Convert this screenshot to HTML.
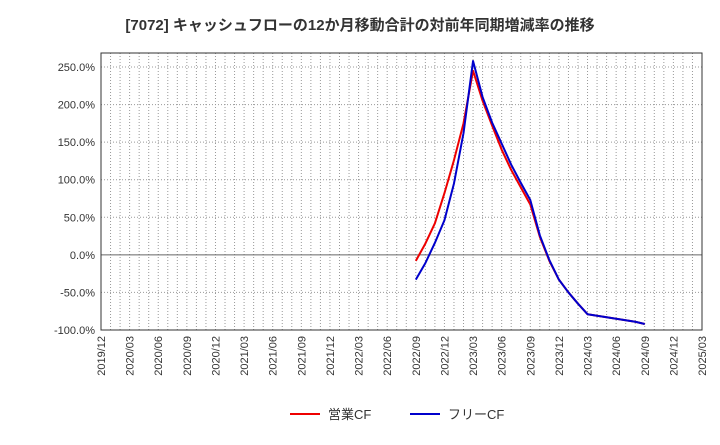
<!DOCTYPE html>
<html><head><meta charset="utf-8"><style>
body{margin:0;background:#fff;font-family:"Liberation Sans","Noto Sans CJK JP",sans-serif;}
</style></head><body>
<svg id="c" width="720" height="440" xmlns="http://www.w3.org/2000/svg">
<text x="360" y="30" text-anchor="middle" font-size="15" font-weight="bold" fill="#333" font-family="Liberation Sans, Noto Sans CJK JP, sans-serif">[7072]  キャッシュフローの12か月移動合計の対前年同期増減率の推移</text>
<g id="grid"></g><g id="axes"></g><g id="series"></g>
<g>
<line x1="290" y1="414" x2="320" y2="414" stroke="#e00" stroke-width="2"/>
<text x="328" y="419" font-size="13" fill="#333" font-family="Liberation Sans, Noto Sans CJK JP, sans-serif">営業CF</text>
<line x1="410" y1="414" x2="440" y2="414" stroke="#00c" stroke-width="2"/>
<text x="448" y="419" font-size="13" fill="#333" font-family="Liberation Sans, Noto Sans CJK JP, sans-serif">フリーCF</text>
</g>
</svg>
<script>
const xTickLabels=["2019/12","2020/03","2020/06","2020/09","2020/12","2021/03","2021/06","2021/09","2021/12","2022/03","2022/06","2022/09","2022/12","2023/03","2023/06","2023/09","2023/12","2024/03","2024/06","2024/09","2024/12","2025/03"];
const yTicks=[250,200,150,100,50,0,-50,-100];
const startMonth=33; // months after 2019/12 (2022/09)
const operatingCF=[-8,15,42,82,126,175,245,205,172,140,113,90,67,24,-8,-33,-50,-65,-79,-81,-83,-85,-87,-89,-92];
const freeCF=[-33,-11,16,46,95,162,258,210,176,148,120,96,73,26,-7,-33,-50,-65,-79,-81,-83,-85,-87,-89,-92];
const NS="http://www.w3.org/2000/svg";
const L=101,R=702,T=53,B=330,months=63;
const xs=m=>L+(R-L)*m/months;
const ys=v=>B-(v+100)*(B-67)/350;
function mk(tag,attrs,parent){const e=document.createElementNS(NS,tag);for(const k in attrs)e.setAttribute(k,attrs[k]);parent.appendChild(e);return e;}
const grid=document.getElementById('grid'),axes=document.getElementById('axes'),ser=document.getElementById('series');
for(let m=1;m<months;m++){const l=mk('line',{x1:xs(m),x2:xs(m),y1:T,y2:B,stroke:'#999','stroke-width':1,'stroke-dasharray':'1,2'},grid);

}
yTicks.forEach(v=>{const y=ys(v);
const l=mk('line',{x1:L,x2:R,y1:y,y2:y,stroke:v===0?'#666':'#999','stroke-width':1,'stroke-dasharray':v===0?'':'1,2'},grid);


const t=mk('text',{x:L-6,y:y+4,'text-anchor':'end','font-size':11,fill:'#333'},axes);t.textContent=v.toFixed(1)+'%';

});
const fr=mk('rect',{x:L,y:T,width:R-L,height:B-T,fill:'none',stroke:'#333','stroke-width':1},axes);


xTickLabels.forEach((s,i)=>{const x=xs(i*3);
const t=mk('text',{x:x+4,y:B+6,'text-anchor':'end','font-size':11,fill:'#333',transform:`rotate(-90 ${x+4} ${B+6})`},axes);t.textContent=s;

});
function line(data,color,name){const pts=data.map((v,i)=>xs(startMonth+i)+','+ys(v)).join(' ');
const p=mk('polyline',{points:pts,fill:'none',stroke:color,'stroke-width':2,'stroke-linejoin':'round'},ser);

}
line(operatingCF,'#e00','operating-cf-line');
line(freeCF,'#00c','free-cf-line');
</script>
</body></html>
